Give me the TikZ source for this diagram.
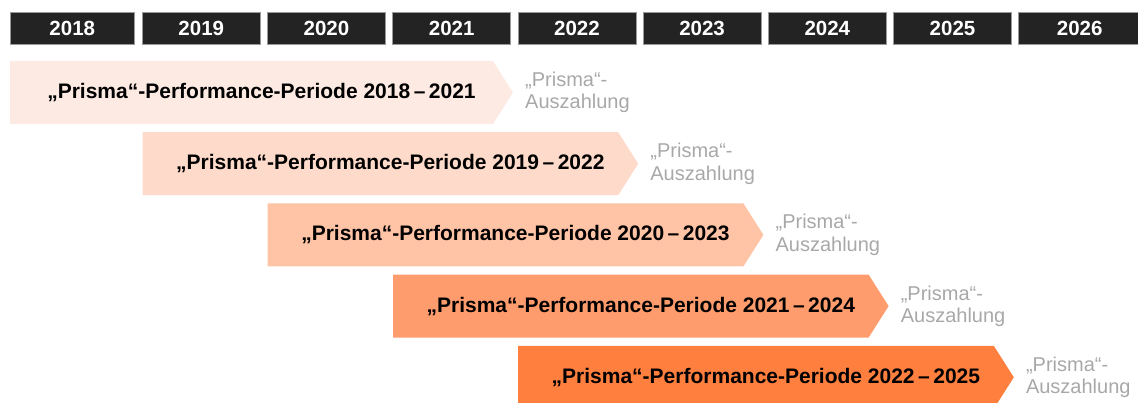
\documentclass[tikz,border=0pt]{standalone}
\usepackage{fontspec}
\setmainfont{Liberation Sans}
\usepackage{xcolor}
\definecolor{prismaNacht}{HTML}{232323}
\definecolor{prismaRand}{HTML}{9A9A9A}
\definecolor{prismaGrau}{HTML}{A8A8A8}
\definecolor{prismaStufeA}{HTML}{FDEBE3}
\definecolor{prismaStufeB}{HTML}{FEDACA}
\definecolor{prismaStufeC}{HTML}{FFC3A6}
\definecolor{prismaStufeD}{HTML}{FF9C6D}
\definecolor{prismaStufeE}{HTML}{FF7F3F}
\usepackage{tikz}
\usetikzlibrary{positioning}
\tikzset{
  %% ── Kopfzeile ────────────────────────────────────────────────────────
  %% One dark tab per year, the columns the periods are read against.
  jahr/.style       = {fill=prismaNacht, draw=prismaRand, line width=0.6pt,
                       text=white, anchor=north west, inner sep=0pt,
                       minimum width=118pt, minimum height=32pt,
                       font=\fontsize{20.5}{23}\selectfont\bfseries},
  %%
  %% ── Texte ────────────────────────────────────────────────────────────
  %% The period name sits on its band; the payout note stays grey, beside
  %% the point of the band.
  periode/.style    = {font=\fontsize{21}{24}\selectfont\bfseries,
                       text=black, inner sep=0pt},
  auszahlung/.style = {font=\fontsize{20}{22.5}\selectfont, text=prismaGrau,
                       align=left, inner sep=0pt},
}

\begin{document}
\begin{tikzpicture}[x=1pt, y=-1pt]
\useasboundingbox (0,0) rectangle (1138,403);

\node[jahr, minimum width=124pt] (j2018) at (10,12) {2018};
\foreach \j/\x in {2019/142, 2020/267.2, 2021/392.4, 2022/517.6, 2023/642.8,
                   2024/768, 2025/893.2}
  \node[jahr] (j\j) at (\x,12) {\j};
\node[jahr, minimum width=122pt] (j2026) at (1018.4,12) {2026};

\foreach \r/\xl/\von/\bis/\farbe in {0/10/2018/2021/prismaStufeA,
    1/142.5/2019/2022/prismaStufeB, 2/267.5/2020/2023/prismaStufeC,
    3/393/2021/2024/prismaStufeD, 4/518/2022/2025/prismaStufeE} {
  \pgfmathsetmacro\xs{513+125.2*\r}
  \pgfmathsetmacro\xe{\xs-20}
  \pgfmathsetmacro\yo{61+71.2*\r}
  \pgfmathsetmacro\yu{\yo+63}
  \pgfmathsetmacro\ym{\yo+31.5}
  \fill[\farbe] (\xl,\yo) -- (\xe,\yo) -- (\xs,\ym) -- (\xe,\yu) -- (\xl,\yu) -- cycle;
  \coordinate (s\von) at (\xs,\ym);
  \node[periode] (p\von) at ({(\xl+\xs)/2},\ym)
       {„Prisma“-Performance-Periode \von\,–\,\bis};
  \node[auszahlung, right=12pt of s\von] (a\von) {„Prisma“-\\Auszahlung};
}

\end{tikzpicture}
\end{document}
